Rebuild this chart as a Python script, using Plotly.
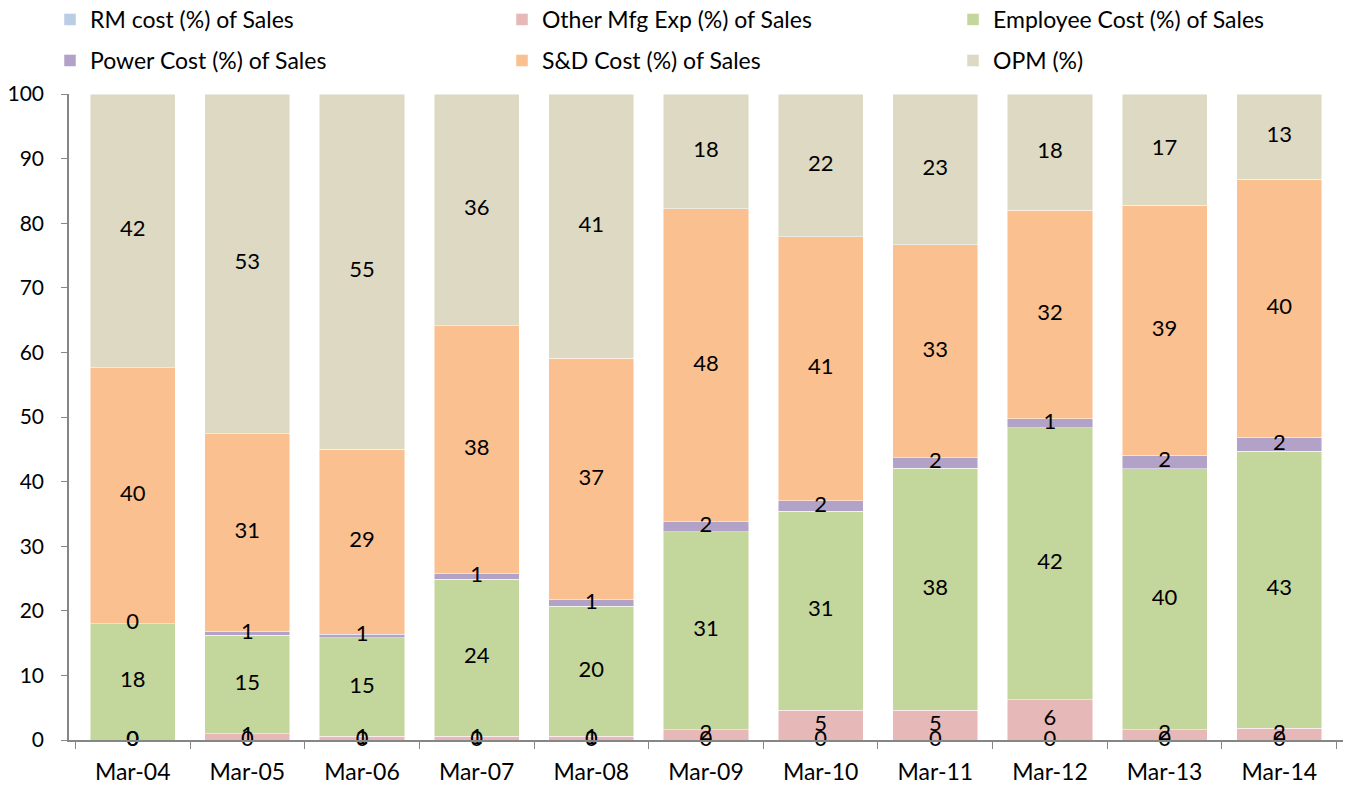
import plotly.graph_objects as go

categories = ["Mar-04", "Mar-05", "Mar-06", "Mar-07", "Mar-08", "Mar-09",
              "Mar-10", "Mar-11", "Mar-12", "Mar-13", "Mar-14"]

rm_cost = [0, 0, 0, 0, 0, 0, 0, 0, 0, 0, 0]
other_mfg = [0.0, 1.0, 0.6, 0.6, 0.6, 1.6, 4.6, 4.6, 6.2, 1.6, 1.8]
employee = [18.0, 15.2, 15.2, 24.3, 20.1, 30.6, 30.8, 37.5, 42.1, 40.4, 42.9]
power = [0.0, 0.6, 0.6, 0.8, 1.0, 1.6, 1.6, 1.6, 1.4, 2.1, 2.2]
sd_cost = [39.6, 30.6, 28.6, 38.4, 37.4, 48.4, 40.9, 33.0, 32.3, 38.7, 39.9]
opm = [42.4, 52.6, 55.0, 35.9, 40.9, 17.8, 22.1, 23.3, 18.0, 17.2, 13.2]

names = ["RM cost (%) of Sales", "Other Mfg Exp (%) of Sales",
         "Employee Cost (%) of Sales", "Power Cost (%) of Sales",
         "S&D Cost (%) of Sales", "OPM (%)"]
values = [rm_cost, other_mfg, employee, power, sd_cost, opm]
colors = ["#B9CDE5", "#E6B9B8", "#C3D69B", "#B3A2C7", "#FAC090", "#DDD9C3"]

FONT = "Lato"
W, H = 1344, 782          # page body has an 8px margin
L, PW, T, B = 61, 1274, 86, 50
R = W - L - PW

fig = go.Figure()
base = [0.0] * len(categories)
label_traces = []
for i, (name, vals, color) in enumerate(zip(names, values, colors)):
    fig.add_trace(go.Bar(
        x=categories, y=vals, name=name,
        legend="legend" if i == 0 else f"legend{i + 1}",
        marker=dict(color=color, line=dict(color="rgba(255,255,255,0.6)", width=0.8)),
        hoverinfo="skip",
    ))
    mids = [b + v / 2 for b, v in zip(base, vals)]
    label_traces.append(go.Scatter(
        x=categories, y=mids, mode="text",
        text=[f"{v:.0f}" for v in vals],
        textposition="middle center",
        textfont=dict(family=FONT, size=22, color="#000000"),
        showlegend=False, hoverinfo="skip", cliponaxis=False,
    ))
    base = [b + v for b, v in zip(base, vals)]

for t in label_traces:
    fig.add_trace(t)

# legend grid: 3 columns x 2 rows (text start px, row centre px in figure coords)
col_text_x = [82, 534, 985]
row_y = [11.5, 52.5]
legends = {}
for i in range(6):
    col, row = i % 3, i // 3
    key = "legend" if i == 0 else f"legend{i + 1}"
    legends[key] = dict(
        x=(col_text_x[col] - 40 - L) / PW, xref="paper", xanchor="left",
        y=1 - row_y[row] / H, yref="container", yanchor="middle",
        orientation="h", bgcolor="rgba(0,0,0,0)",
        font=dict(family=FONT, size=23, color="#000000"),
    )

fig.update_layout(
    width=W, height=H,
    barmode="stack", bargap=0.257,
    plot_bgcolor="white", paper_bgcolor="white",
    margin=dict(l=L, r=R, t=T, b=B, autoexpand=False),
    font=dict(family=FONT, size=23, color="#000000"),
    showlegend=True,
    **legends,
)

fig.update_xaxes(
    type="category", showline=True, linecolor="#868686", linewidth=1.5,
    ticks="outside", tickson="boundaries", ticklen=7, tickcolor="#868686",
    tickfont=dict(family=FONT, size=23), showgrid=False, ticklabelstandoff=11,
)
fig.update_yaxes(
    range=[0, 100], dtick=10, showline=True, linecolor="#868686", linewidth=1.5,
    ticks="outside", ticklen=6, tickcolor="#868686", showgrid=False,
    zeroline=False, tickfont=dict(family=FONT, size=21), ticklabelstandoff=13,
)

fig.write_html("out.html")
